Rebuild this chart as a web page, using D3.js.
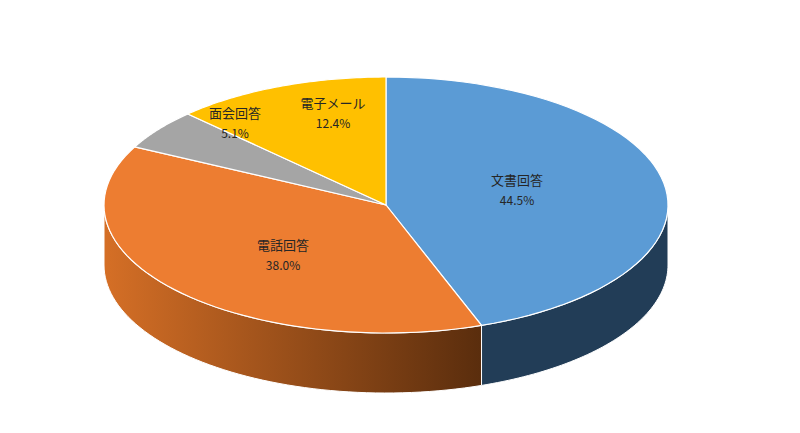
<!DOCTYPE html>
<html><head><meta charset="utf-8">
<script src="https://cdn.jsdelivr.net/npm/d3@7"></script>
<style>body{margin:0;background:#fff}</style></head>
<body><svg id="c" width="800" height="433"></svg>
<script>
const categories=["文書回答","電話回答","面会回答","電子メール"];
const values=[44.5,38.0,5.1,12.4];
const topColors=["#5b9bd5","#ed7d31","#a5a5a5","#ffc000"];
const sideDark=["#223d57","#8a4417","#606060","#947000"];
const labelPos=[[517,185],[283,250],[235,118],[333,108]];

const svg=d3.select("#c");
const cx=386,cy=205,rx=282,ry=128,depth=60;
const pie=d3.pie().sort(null).value(d=>d)(values);
// angle: d3 pie 0 = top, clockwise. convert to screen angle
const P=(a,dy=0)=>[cx+rx*Math.sin(a),cy-ry*Math.cos(a)+dy];
function arcPts(a0,a1,dy){const n=60,pts=[];for(let i=0;i<=n;i++){pts.push(P(a0+(a1-a0)*i/n,dy));}return pts;}
const defs=svg.append("defs");
const g=defs.append("linearGradient").attr("id","og").attr("x1","0").attr("x2","1");
g.append("stop").attr("offset","0").attr("stop-color","#d56f26");
g.append("stop").attr("offset","1").attr("stop-color","#5a2d0d");
const line=d3.line();
// sides: front-facing range in pie angle is [PI/2, 3PI/2]
pie.forEach((d,i)=>{
  const a0=Math.max(d.startAngle,Math.PI/2),a1=Math.min(d.endAngle,3*Math.PI/2);
  if(a1<=a0)return;
  const top=arcPts(a0,a1,0),bot=arcPts(a1,a0,depth);
  svg.append("path").attr("d",line(top.concat(bot))+"Z")
    .attr("fill",i===1?"url(#og)":sideDark[i]).attr("stroke","#fff").attr("stroke-width",1);
});
pie.forEach((d,i)=>{
  const pts=[[cx,cy]].concat(arcPts(d.startAngle,d.endAngle,0));
  svg.append("path").attr("d",line(pts)+"Z").attr("fill",topColors[i]).attr("stroke","#fff").attr("stroke-width",1.2);
});
pie.forEach((d,i)=>{
  const t=svg.append("text").attr("text-anchor","middle").attr("font-family","Noto Sans CJK JP").attr("font-size",13).attr("fill","#262626");
  t.append("tspan").attr("x",labelPos[i][0]).attr("y",labelPos[i][1]).text(categories[i]);
  t.append("tspan").attr("x",labelPos[i][0]).attr("y",labelPos[i][1]+20).attr("font-size",12).text(values[i].toFixed(1)+"%");
});
</script></body></html>
